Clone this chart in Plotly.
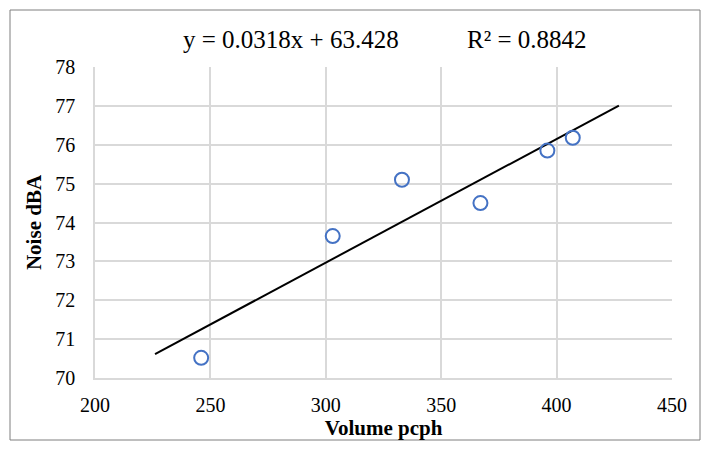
import plotly.graph_objects as go

volume = [246, 303, 333, 367, 396, 407]
noise = [70.52, 73.65, 75.10, 74.50, 75.85, 76.18]
slope = 0.0318
intercept = 63.428
r2 = 0.8842
forecast = 20

W, H = 710, 450
L, R, T, B = 95, 38, 67, 72

tx = [min(volume) - forecast, max(volume) + forecast]
ty = [slope * x + intercept for x in tx]

fig = go.Figure()
fig.add_trace(go.Scatter(x=tx, y=ty, mode="lines",
                         line=dict(color="black", width=2), showlegend=False))
fig.add_trace(go.Scatter(x=volume, y=noise, mode="markers",
                         marker=dict(symbol="circle-open", size=14,
                                     color="#4472C4", line=dict(width=2)),
                         showlegend=False))

pw, ph = W - L - R, H - T - B
def px(xp):
    return (xp - L) / pw
def py(yp):
    return (H - B - yp) / ph

fig.add_shape(type="rect", xref="paper", yref="paper",
              x0=px(10), x1=px(700), y0=py(440), y1=py(10),
              line=dict(color="#7f7f7f", width=1), layer="below")

font = "Liberation Serif, Times New Roman, serif"
fig.add_annotation(xref="paper", yref="paper", x=px(291), y=py(40),
                   xanchor="center", yanchor="middle",
                   text=f"y = {slope}x + {intercept}", showarrow=False,
                   font=dict(size=25, color="black", family=font))
fig.add_annotation(xref="paper", yref="paper", x=px(527), y=py(40),
                   xanchor="center", yanchor="middle",
                   text=f"R² = {r2}", showarrow=False,
                   font=dict(size=25, color="black", family=font))

fig.update_layout(
    width=W, height=H, margin=dict(l=L, r=R, t=T, b=B),
    paper_bgcolor="white", plot_bgcolor="white",
    font=dict(family=font, size=20, color="black"),
)
fig.update_xaxes(range=[200, 450], dtick=50, showgrid=True, gridcolor="#d9d9d9",
                 gridwidth=1.5, showline=True, linecolor="#d9d9d9", linewidth=1.5,
                 mirror=False, zeroline=False, ticks="", ticklabelstandoff=8,
                 tickfont=dict(size=20),
                 title=dict(text="<b>Volume pcph</b>", font=dict(size=21), standoff=5))
fig.update_yaxes(range=[70, 78], dtick=1, showgrid=True, gridcolor="#d9d9d9",
                 gridwidth=1.5, showline=True, linecolor="#d9d9d9", linewidth=1.5,
                 zeroline=False, ticks="", ticklabelstandoff=14,
                 tickfont=dict(size=20),
                 title=dict(text="<b>Noise dBA</b>", font=dict(size=21), standoff=8))

fig.write_html("out.html")
